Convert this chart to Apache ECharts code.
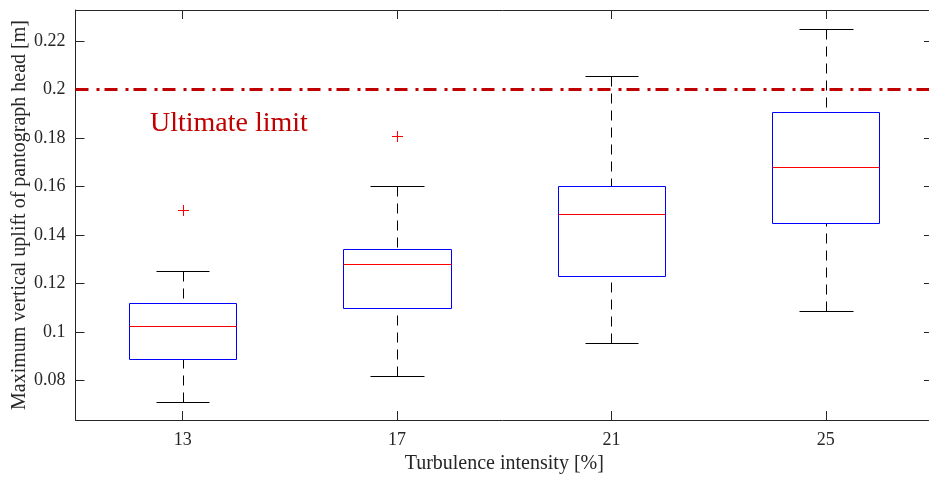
<!DOCTYPE html>
<html>
<head>
<meta charset="utf-8">
<script src="https://cdn.jsdelivr.net/npm/echarts@6/dist/echarts.min.js"></script>
<style>
  html, body { margin: 0; padding: 0; background: #ffffff; }
  #chart { width: 929px; height: 479px; }
</style>
</head>
<body>
<div id="chart"></div>
<script>
// ---- data ----
const categories   = ['13', '17', '21', '25'];
const lowerWhisker = [0.0712, 0.0819, 0.0953, 0.1085];
const quartile1    = [0.0888, 0.1097, 0.1231, 0.1448];
const medians      = [0.1025, 0.1280, 0.1487, 0.1681];
const quartile3    = [0.1120, 0.1342, 0.1602, 0.1907];
const upperWhisker = [0.1253, 0.1602, 0.2058, 0.2251];
const outlierCat   = [0, 1];
const outlierVal   = [0.1503, 0.1809];
const yTicks       = [0.08, 0.10, 0.12, 0.14, 0.16, 0.18, 0.20, 0.22];
const yTickLabels  = ['0.08', '0.1', '0.12', '0.14', '0.16', '0.18', '0.2', '0.22'];
const limitValue   = 0.2;
const limitLabel   = 'Ultimate limit';
const xTitle       = 'Turbulence intensity [%]';
const yTitle       = 'Maximum vertical uplift of pantograph head [m]';
const yMin = 0.0636, yMax = 0.2329;

// ---- build ----
const boxData = categories.map((c, i) => [i, lowerWhisker[i], quartile1[i], medians[i], quartile3[i], upperWhisker[i]]);
const outData = outlierCat.map((c, i) => [c, outlierVal[i]]);

const FONT = '"Liberation Serif", "Times New Roman", serif';
const AX = '#262626';
const px = v => Math.round(v) + 0.5;

function renderBox(params, api) {
  const i = api.value(0);
  const lo = api.value(1), q1 = api.value(2), md = api.value(3), q3 = api.value(4), hi = api.value(5);
  const band = api.size([1, 0])[0];
  const cx = api.coord([i, md])[0];
  const y = v => px(api.coord([i, v])[1]);
  const hw = band * 0.25, cw = band * 0.125;
  const xc = px(cx);
  const l = px(cx - hw), r = px(cx + hw);
  const dash = { stroke: '#000', lineWidth: 1, lineDash: [10, 7], fill: null };
  const solid = c => ({ stroke: c, lineWidth: 1, fill: null });
  return {
    type: 'group',
    children: [
      { type: 'line', shape: { x1: xc, y1: y(lo), x2: xc, y2: y(q1) }, style: dash },
      { type: 'line', shape: { x1: xc, y1: y(hi), x2: xc, y2: y(q3) }, style: dash },
      { type: 'line', shape: { x1: px(cx - cw), y1: y(lo), x2: px(cx + cw), y2: y(lo) }, style: solid('#000') },
      { type: 'line', shape: { x1: px(cx - cw), y1: y(hi), x2: px(cx + cw), y2: y(hi) }, style: solid('#000') },
      { type: 'rect', shape: { x: l, y: y(q3), width: r - l, height: y(q1) - y(q3) }, style: solid('#0000ff') },
      { type: 'line', shape: { x1: l, y1: y(md), x2: r, y2: y(md) }, style: solid('#ff0000') }
    ]
  };
}

function renderOutlier(params, api) {
  const p = api.coord([api.value(0), api.value(1)]);
  const x = px(p[0]), yy = px(p[1]), s = 5.5;
  const st = { stroke: '#ff0000', lineWidth: 1, fill: null };
  return {
    type: 'group',
    children: [
      { type: 'line', shape: { x1: x - s, y1: yy, x2: x + s, y2: yy }, style: st },
      { type: 'line', shape: { x1: x, y1: yy - s, x2: x, y2: yy + s }, style: st }
    ]
  };
}

const chart = echarts.init(document.getElementById('chart'), null, { renderer: 'canvas' });
const catAxisBase = {
  type: 'category',
  data: categories,
  boundaryGap: true,
  axisLine: { show: true, lineStyle: { color: AX, width: 1 } },
  axisTick: { show: true, inside: true, length: 9, alignWithLabel: true, lineStyle: { color: AX } },
  splitLine: { show: false }
};
const valAxisBase = {
  type: 'value',
  min: yMin,
  max: yMax,
  axisLine: { show: true, lineStyle: { color: AX, width: 1 } },
  axisTick: { show: true, inside: true, length: 9, customValues: yTicks, lineStyle: { color: AX } },
  splitLine: { show: false }
};

chart.setOption({
  animation: false,
  backgroundColor: '#ffffff',
  textStyle: { fontFamily: FONT },
  grid: { left: 75.5, right: -4, top: 10, bottom: 59, containLabel: false, outerBoundsMode: 'none' },
  xAxis: [
    Object.assign({}, catAxisBase, {
      position: 'bottom',
      name: xTitle,
      nameLocation: 'middle',
      nameGap: 33,
      nameTextStyle: { fontFamily: FONT, fontSize: 20, color: AX },
      axisLabel: { show: true, margin: 11, fontFamily: FONT, fontSize: 18, color: AX }
    }),
    Object.assign({}, catAxisBase, {
      position: 'top',
      axisLabel: { show: false }
    })
  ],
  yAxis: [
    Object.assign({}, valAxisBase, {
      position: 'left',
      name: yTitle,
      nameLocation: 'middle',
      nameGap: 46,
      nameMoveOverlap: false,
      nameTextStyle: { fontFamily: FONT, fontSize: 20, color: AX },
      axisLabel: {
        show: true, margin: 10, fontFamily: FONT, fontSize: 18, color: AX,
        customValues: yTicks,
        formatter: v => { const k = yTicks.findIndex(t => Math.abs(t - v) < 1e-9); return k >= 0 ? yTickLabels[k] : ''; }
      }
    }),
    Object.assign({}, valAxisBase, {
      position: 'right',
      axisLine: { show: false },
      axisLabel: { show: false }
    })
  ],
  series: [
    {
      type: 'custom',
      xAxisIndex: 0, yAxisIndex: 0,
      renderItem: renderBox,
      data: boxData,
      encode: { x: 0, y: [1, 2, 3, 4, 5] },
      z: 3,
      markLine: {
        silent: true,
        symbol: ['none', 'none'],
        label: { show: false },
        lineStyle: { color: '#c00000', width: 3, type: [13, 8, 3, 5] },
        data: [{ yAxis: limitValue }]
      }
    },
    {
      type: 'custom',
      xAxisIndex: 0, yAxisIndex: 0,
      renderItem: renderOutlier,
      data: outData,
      encode: { x: 0, y: 1 },
      z: 4
    }
  ],
  graphic: [
    {
      type: 'text',
      left: 150,
      top: 110,
      style: { text: limitLabel, fontFamily: FONT, fontSize: 28, fill: '#c00000' }
    }
  ]
});
</script>
</body>
</html>
